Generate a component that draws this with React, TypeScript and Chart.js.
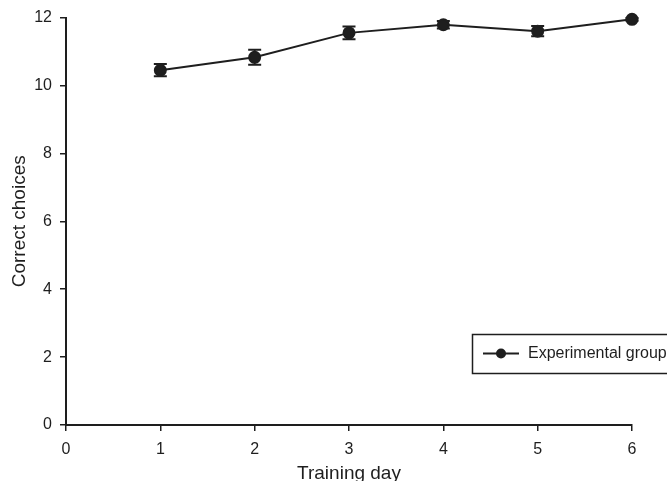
import React, { useEffect, useRef } from "react";
import { Chart, registerables } from "chart.js";

Chart.register(...registerables);

const days = [1, 2, 3, 4, 5, 6];
const correctChoices = [10.45, 10.83, 11.55, 11.79, 11.6, 11.95];
const errors = [0.18, 0.22, 0.19, 0.11, 0.15, 0.04];
const xTickValues = [0, 1, 2, 3, 4, 5, 6];
const yTickValues = [0, 2, 4, 6, 8, 10, 12];
const seriesLabel = "Experimental group";
const xTitle = "Training day";
const yTitle = "Correct choices";

const FONT = "'Liberation Sans', Arial, Helvetica, sans-serif";
const INK = "#1e1e1e";

const errorBarPlugin = {
  id: "errorBars",
  beforeDatasetsDraw(chart: any) {
    const { ctx, scales } = chart;
    const xs = scales.x;
    const ys = scales.y;
    ctx.save();
    ctx.strokeStyle = INK;
    ctx.lineWidth = 2;
    days.forEach((d, i) => {
      const x = xs.getPixelForValue(d);
      const yTop = ys.getPixelForValue(correctChoices[i] + errors[i]);
      const yBot = ys.getPixelForValue(correctChoices[i] - errors[i]);
      const cap = 6.5;
      ctx.beginPath();
      ctx.moveTo(x, yTop);
      ctx.lineTo(x, yBot);
      ctx.moveTo(x - cap, yTop);
      ctx.lineTo(x + cap, yTop);
      ctx.moveTo(x - cap, yBot);
      ctx.lineTo(x + cap, yBot);
      ctx.stroke();
    });
    ctx.restore();
  },
};

const boxLegendPlugin = {
  id: "boxLegend",
  afterDraw(chart: any) {
    const { ctx, chartArea } = chart;
    const left = chartArea.right - 160;
    const top = chartArea.bottom - 91;
    const h = 39;
    const midY = top + h / 2;
    ctx.save();
    ctx.strokeStyle = INK;
    ctx.lineWidth = 1.5;
    ctx.strokeRect(left + 0.5, top + 0.5, 300, h);
    ctx.lineWidth = 2;
    ctx.beginPath();
    ctx.moveTo(left + 11, midY);
    ctx.lineTo(left + 47, midY);
    ctx.stroke();
    ctx.fillStyle = INK;
    ctx.beginPath();
    ctx.arc(left + 29, midY, 5, 0, Math.PI * 2);
    ctx.fill();
    ctx.font = `16px ${FONT}`;
    ctx.textBaseline = "middle";
    ctx.textAlign = "left";
    ctx.fillText(seriesLabel, left + 56, midY);
    ctx.restore();
  },
};

export default function App() {
  const canvasRef = useRef<HTMLCanvasElement | null>(null);

  useEffect(() => {
    const canvas = canvasRef.current;
    if (!canvas) return;
    const chart = new Chart(canvas, {
      type: "line",
      data: {
        datasets: [
          {
            label: seriesLabel,
            data: days.map((d, i) => ({ x: d, y: correctChoices[i] })),
            borderColor: INK,
            backgroundColor: INK,
            borderWidth: 2,
            pointRadius: 5.5,
            pointBackgroundColor: INK,
            pointBorderColor: INK,
            tension: 0,
            clip: false,
          } as any,
        ],
      },
      options: {
        animation: false,
        responsive: false,
        layout: { padding: { top: 17, right: 35, left: 0, bottom: 0 } },
        plugins: {
          legend: { display: false },
          tooltip: { enabled: false },
        },
        scales: {
          x: {
            type: "linear",
            min: 0,
            max: 6,
            afterBuildTicks: (scale: any) => {
              scale.ticks = xTickValues.map((v) => ({ value: v }));
            },
            afterFit: (scale: any) => {
              scale.height = 56;
            },
            grid: {
              display: true,
              drawOnChartArea: false,
              drawTicks: true,
              tickLength: 6,
              color: INK,
              lineWidth: 1.5,
            },
            border: { display: true, color: INK, width: 2 },
            ticks: {
              color: INK,
              font: { family: FONT, size: 16 },
              padding: 9,
              maxRotation: 0,
            },
            title: {
              display: true,
              text: xTitle,
              color: INK,
              font: { family: FONT, size: 19, lineHeight: 0.75 },
              padding: { top: 0, bottom: 0 },
            },
          },
          y: {
            type: "linear",
            min: 0,
            max: 12,
            afterBuildTicks: (scale: any) => {
              scale.ticks = yTickValues.map((v) => ({ value: v }));
            },
            afterFit: (scale: any) => {
              scale.width = 66;
            },
            grid: {
              display: true,
              drawOnChartArea: false,
              drawTicks: true,
              tickLength: 6,
              color: INK,
              lineWidth: 1.5,
            },
            border: { display: true, color: INK, width: 2 },
            ticks: {
              color: INK,
              font: { family: FONT, size: 16 },
              padding: 8,
            },
            title: {
              display: true,
              text: yTitle,
              color: INK,
              font: { family: FONT, size: 19 },
              padding: { top: 8, bottom: 0 },
            },
          },
        },
      },
      plugins: [errorBarPlugin, boxLegendPlugin],
    });
    return () => chart.destroy();
  }, []);

  return (
    <div style={{ position: "fixed", left: 0, top: 0, width: 667, height: 481, background: "#fff" }}>
      <canvas ref={canvasRef} width={667} height={481} style={{ display: "block" }} />
    </div>
  );
}
